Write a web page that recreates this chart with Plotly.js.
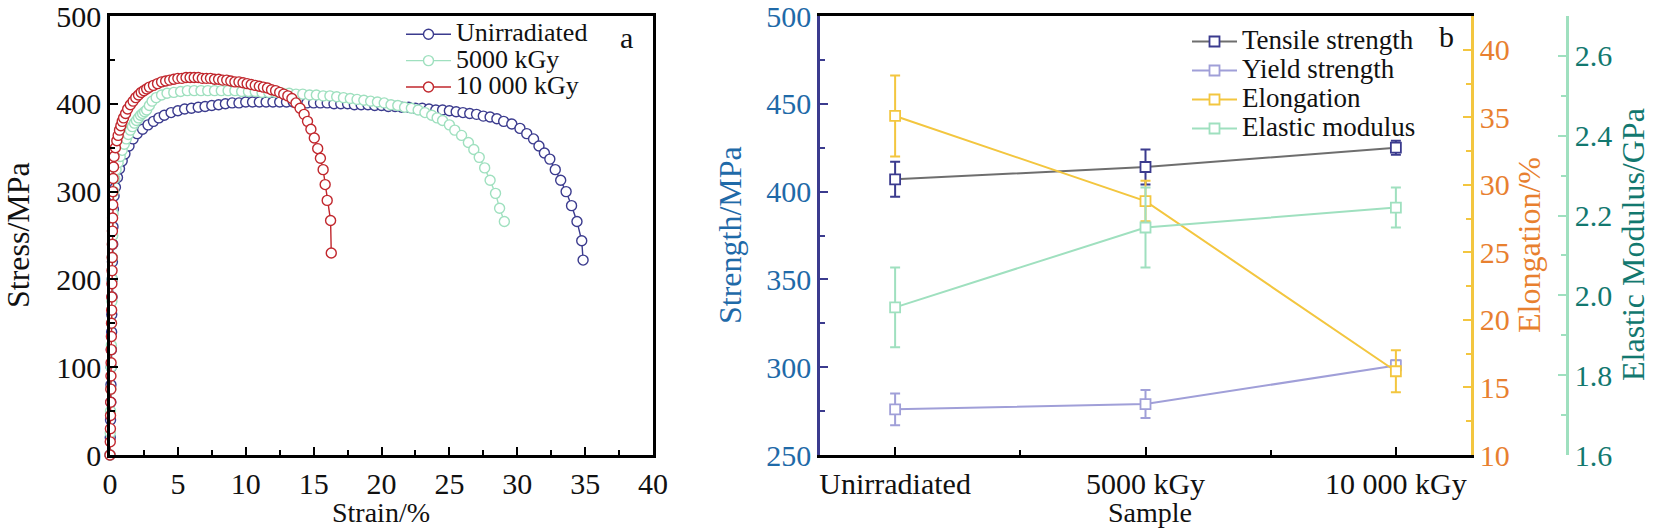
<!DOCTYPE html>
<html>
<head>
<meta charset="utf-8">
<script src="https://cdn.plot.ly/plotly-3.0.1.min.js"></script>
<style>
    html, body { margin: 0; padding: 0; background: #fff; }
    #chart { width: 1666px; height: 532px; }
</style>
</head>
<body>
<div id="chart"></div>
<script>
// **********************************************************************************************
// DATA  (a) stress-strain curves

const strain_unirr = [0, 0.02, 0.04, 0.06, 0.07, 0.09, 0.1, 0.12, 0.13, 0.15, 0.16, 0.18, 0.2, 0.22, 0.25, 0.3, 0.4, 0.55, 0.7, 0.9,
    1.1, 1.4, 1.7, 2.0, 2.4, 2.8, 3.2, 3.6, 4.0, 4.5, 5.0, 5.5, 6.0, 6.5, 7.0, 7.5, 8.0, 8.5, 9.0, 9.5,
    10.0, 10.5, 11.0, 11.5, 12.0, 12.5, 13.0, 13.5, 14.0, 14.5, 15.0, 15.5, 16.0, 16.5, 17.0, 17.5, 18.0, 18.5, 19.0, 19.5,
    20.0, 20.5, 21.0, 21.5, 22.0, 22.5, 23.0, 23.5, 24.0, 24.5, 25.0, 25.5, 26.0, 26.5, 27.0, 27.5, 28.0, 28.5, 29.0, 29.6,
    30.2, 30.7, 31.2, 31.6, 32.0, 32.4, 32.8, 33.2, 33.6, 34.0, 34.4, 34.75, 34.85];
const stress_unirr = [0, 20, 40, 60, 80, 100, 120, 140, 160, 180, 200, 220, 240, 260, 280, 295, 305, 316, 326, 335,
    343, 352, 360, 366, 371, 376, 380, 384, 387, 390, 392, 394, 395, 396, 397, 398, 399, 400, 401, 401,
    402, 402, 402, 402, 402, 402, 402, 402, 401, 401, 401, 401, 401, 400, 400, 400, 399, 399, 399, 398,
    398, 397, 397, 396, 396, 395, 395, 394, 393, 393, 392, 391, 390, 389, 388, 386, 385, 383, 380, 377,
    372, 366, 360, 352, 344, 337, 325, 313, 300, 284, 266, 244, 222];

const strain_5000 = [0, 0.02, 0.04, 0.06, 0.08, 0.1, 0.12, 0.14, 0.16, 0.18, 0.2, 0.23, 0.27, 0.35, 0.45, 0.6, 0.75, 0.9, 1.05, 1.2,
    1.35, 1.5, 1.65, 1.8, 1.95, 2.1, 2.25, 2.4, 2.55, 2.7, 2.9, 3.1, 3.4, 3.8, 4.2, 4.7, 5.2, 5.7, 6.2, 6.7,
    7.2, 7.7, 8.2, 8.7, 9.2, 9.7, 10.2, 10.7, 11.2, 11.7, 12.2, 12.7, 13.2, 13.7, 14.2, 14.7, 15.2, 15.7, 16.2, 16.7,
    17.2, 17.7, 18.2, 18.7, 19.2, 19.7, 20.2, 20.7, 21.2, 21.7, 22.2, 22.7, 23.2, 23.7, 24.1, 24.5, 25.0, 25.4, 25.9, 26.4,
    26.8, 27.2, 27.6, 28.0, 28.4, 28.7, 29.05];
const stress_5000 = [0, 25, 50, 75, 100, 125, 150, 175, 200, 225, 250, 275, 300, 315, 325, 333, 340, 347, 354, 360,
    365, 370, 374, 378, 381, 384, 387, 389, 391, 393, 398, 403, 407, 410, 412, 413, 414, 415, 415, 415,
    415, 415, 415, 415, 415, 414, 414, 414, 413, 413, 413, 412, 412, 411, 411, 410, 410, 409, 409, 408,
    407, 406, 405, 404, 403, 402, 401, 399, 398, 396, 395, 393, 390, 387, 384, 381, 376, 370, 364, 356,
    348, 339, 327, 313, 298, 281, 266];

const strain_10000 = [0, 0.02, 0.03, 0.04, 0.05, 0.06, 0.07, 0.08, 0.09, 0.1, 0.11, 0.12, 0.13, 0.14, 0.15, 0.16, 0.17, 0.18, 0.19, 0.2,
    0.21, 0.23, 0.26, 0.3, 0.4, 0.5, 0.6, 0.7, 0.8, 0.9, 1.0, 1.15, 1.3, 1.5, 1.7, 1.9, 2.1, 2.3, 2.5, 2.7,
    2.9, 3.2, 3.5, 3.8, 4.1, 4.4, 4.7, 5.0, 5.3, 5.6, 5.9, 6.2, 6.5, 6.8, 7.1, 7.4, 7.7, 8.0, 8.3, 8.6,
    8.9, 9.2, 9.5, 9.8, 10.1, 10.4, 10.7, 11.0, 11.3, 11.6, 11.9, 12.2, 12.5, 12.8, 13.1, 13.4, 13.7, 14.0, 14.3, 14.55,
    14.8, 15.05, 15.3, 15.5, 15.7, 15.85, 16.0, 16.25, 16.3];
const stress_10000 = [0, 15, 30, 45, 60, 75, 90, 105, 120, 135, 150, 165, 180, 195, 210, 225, 240, 255, 270, 285,
    300, 315, 328, 340, 350, 358, 364, 370, 375, 380, 384, 389, 394, 399, 403, 407, 410, 413, 415, 417,
    419, 421, 423, 425, 426, 427, 428, 429, 429, 430, 430, 430, 430, 429, 429, 429, 428, 428, 427, 427,
    426, 425, 425, 424, 423, 422, 421, 420, 419, 418, 416, 415, 413, 411, 409, 406, 401, 395, 388, 380,
    371, 361, 349, 338, 325, 308, 290, 267, 230];

// DATA  (b) properties per sample

const samples = ['Unirradiated', '5000 kGy', '10 000 kGy'];
const tensile = [407, 414, 425];
const tensile_err = [10, 10, 4];
const yield_str = [276, 279, 301];
const yield_err = [9, 8, 3];
const elongation = [35.1, 28.8, 16.2];
const elongation_err = [3.0, 1.5, 1.55];
const modulus = [1.97, 2.17, 2.22];
const modulus_err = [0.1, 0.1, 0.05];

const sample_x = samples.map((s, i) => i);

// **********************************************************************************************
// STYLE

const FONT = 'Liberation Serif';
const W = 1666, H = 532;
const px = v => v / W;
const py = v => 1 - v / H;

const c_navy = '#3b3b8e';
const c_green = '#9fe0bf';
const c_red = '#c1272d';
const c_gray = '#6e6e6e';
const c_purple = '#a09fd8';
const c_gold = '#f3c63f';
const c_blue = '#1f6aa8';
const c_orange = '#e8802f';
const c_teal = '#12786f';

// legend text is sized in a span, so the legend rows can stay tight
const lg = (t, size) => '<span style="font-size:' + size + 'px">' + t + '</span>';

// **********************************************************************************************
// TRACES

const curve = (name, x, y, color) => ({
    name: lg(name, 26), type: 'scatter', mode: 'lines+markers',
    x: x, y: y, xaxis: 'x', yaxis: 'y', legend: 'legend', cliponaxis: false,
    line: { color: color, width: 1.4 },
    marker: { symbol: 'circle', size: 10, color: '#fff', line: { color: color, width: 1.4 } }
});

const prop = (name, y, err, yaxis, lineColor, markColor) => ({
    name: lg(name, 27), type: 'scatter', mode: 'lines+markers',
    x: sample_x, y: y, xaxis: 'x2', yaxis: yaxis, legend: 'legend2', cliponaxis: false,
    line: { color: lineColor, width: 2 },
    marker: { symbol: 'square', size: 10, color: '#fff', line: { color: markColor, width: 1.8 } },
    error_y: { type: 'data', array: err, visible: true, color: markColor, thickness: 2, width: 5 }
});

const data = [
    curve('Unirradiated', strain_unirr, stress_unirr, c_navy),
    curve('5000 kGy', strain_5000, stress_5000, c_green),
    curve('10 000 kGy', strain_10000, stress_10000, c_red),
    prop('Tensile strength', tensile, tensile_err, 'y2', c_gray, c_navy),
    prop('Yield strength', yield_str, yield_err, 'y2', c_purple, c_purple),
    prop('Elongation', elongation, elongation_err, 'y3', c_gold, c_gold),
    prop('Elastic modulus', modulus, modulus_err, 'y4', c_green, c_green)
];

// **********************************************************************************************
// LAYOUT

const yDomain = [py(455), py(16)];

const tfont = (color, size) => ({ family: FONT, size: size || 30, color: color });

const axisBase = () => ({
    showgrid: false, zeroline: false, showline: true, linewidth: 2.5,
    ticks: 'inside', ticklen: 8, tickwidth: 2, ticklabeloverflow: 'allow',
    tickfont: tfont('#111')
});

const minor = (dtick) => ({ dtick: dtick, ticks: 'inside', ticklen: 5, tickwidth: 2 });

const title = (text, x, y, color, angle, size) => ({
    text: text, xref: 'paper', yref: 'paper', x: px(x), y: py(y),
    xanchor: 'center', yanchor: 'middle',
    showarrow: false, textangle: angle || 0,
    font: { family: FONT, size: size || 32, color: color }
});

const layout = {
    width: W, height: H,
    margin: { t: 0, r: 0, b: 0, l: 0 },
    paper_bgcolor: '#fff', plot_bgcolor: 'rgba(0,0,0,0)',
    showlegend: true,
    font: { family: FONT, size: 30, color: '#111' },
    xaxis: Object.assign(axisBase(), {
        domain: [px(110), px(653)], range: [0, 40], dtick: 5, anchor: 'y',
        linecolor: '#000', tickcolor: '#000', mirror: true, minor: minor(2.5)
    }),
    yaxis: Object.assign(axisBase(), {
        domain: yDomain, range: [0, 500], dtick: 100, anchor: 'x',
        linecolor: '#000', tickcolor: '#000', mirror: true, minor: minor(50)
    }),
    xaxis2: Object.assign(axisBase(), {
        domain: [px(820), px(1471)], range: [-0.3, 2.3], anchor: 'y2',
        tickmode: 'array', tickvals: sample_x, ticktext: samples,
        linecolor: '#000', tickcolor: '#000', mirror: true,
        minor: { tick0: 0.5, dtick: 1, ticks: 'inside', ticklen: 5, tickwidth: 2 }
    }),
    yaxis2: Object.assign(axisBase(), {
        domain: yDomain, range: [250, 500], dtick: 50, anchor: 'x2',
        linecolor: c_navy, tickcolor: c_navy, minor: minor(25),
        tickfont: tfont(c_blue)
    }),
    yaxis3: Object.assign(axisBase(), {
        overlaying: 'y2', side: 'right', anchor: 'x2',
        range: [10, 42.5], tick0: 10, dtick: 5, minor: minor(2.5),
        linecolor: c_gold, tickcolor: c_gold,
        tickfont: tfont(c_orange)
    }),
    yaxis4: Object.assign(axisBase(), {
        overlaying: 'y2', side: 'right', anchor: 'free', position: px(1567),
        range: [1.6, 2.7], tick0: 1.6, dtick: 0.2, tickformat: '.1f', minor: minor(0.1),
        linecolor: c_green, tickcolor: c_green,
        tickfont: tfont(c_teal)
    }),
    legend: {
        x: px(401), y: py(16), xanchor: 'left', yanchor: 'top',
        bgcolor: 'rgba(0,0,0,0)', borderwidth: 0, itemwidth: 45,
        font: { family: FONT, size: 18, color: '#111' }
    },
    legend2: {
        x: px(1187), y: py(22), xanchor: 'left', yanchor: 'top',
        bgcolor: 'rgba(0,0,0,0)', borderwidth: 0, itemwidth: 45,
        font: { family: FONT, size: 20, color: '#111' }
    },
    annotations: [
        title('Stress/MPa', 18, 235, '#111', -90),
        title('Strain/%', 381, 512, '#111', 0, 28),
        title('Strength/MPa', 730, 235, c_blue, -90),
        title('Sample', 1150, 512, '#111', 0, 28),
        title('Elongation/%', 1529, 245, c_orange, -90),
        title('Elastic Modulus/GPa', 1633, 245, c_teal, -90),
        { text: 'a', xref: 'paper', yref: 'paper', x: px(626), y: py(38), xanchor: 'center', yanchor: 'middle',
          showarrow: false, font: { family: FONT, size: 30, color: '#111' } },
        { text: 'b', xref: 'paper', yref: 'paper', x: px(1446), y: py(36), xanchor: 'center', yanchor: 'middle',
          showarrow: false, font: { family: FONT, size: 30, color: '#111' } }
    ]
};

// **********************************************************************************************
// CONFIG

const config = { displayModeBar: false, responsive: false };

// **********************************************************************************************
// CREATE AND APPEND

Plotly.newPlot(document.getElementById('chart'), data, layout, config);
</script>
</body>
</html>
